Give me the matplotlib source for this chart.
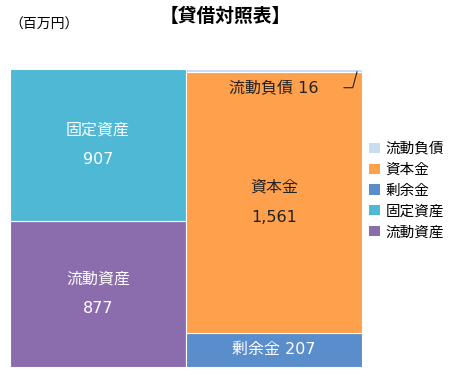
import matplotlib
matplotlib.use("Agg")
import matplotlib.pyplot as plt
from matplotlib.patches import Patch

# DejaVu has Verdana-like digits, CJK falls back to Noto
plt.rcParams['font.family'] = ['DejaVu Sans', 'Noto Sans CJK JP']

# balance sheet values (millions of yen)
assets_labels = ['流動資産', '固定資産']
assets_values = [877, 907]
liab_labels = ['剰余金', '資本金', '流動負債']
liab_values = [207, 1561, 16]

colors = {
    '流動資産': '#8B6DAD',
    '固定資産': '#4FB8D4',
    '剰余金': '#5A8DCB',
    '資本金': '#FFA04C',
    '流動負債': '#C9DCF2',
}
text_colors = {
    '流動資産': 'white',
    '固定資産': 'white',
    '剰余金': 'white',
    '資本金': '#222222',
}
fs = 11.5

fig = plt.figure(figsize=(4.51, 3.75), dpi=100)
ax = fig.add_axes([0.022, 0.021, 0.781, 0.795])

# left bar: assets
bottom = 0
for lab, val in zip(assets_labels, assets_values):
    ax.bar(0, val, width=1, bottom=bottom, color=colors[lab], edgecolor='white', linewidth=0.8)
    ax.text(0, bottom + val / 2 + val * 0.1, lab, ha='center', va='center', color=text_colors[lab], fontsize=fs)
    ax.text(0, bottom + val / 2 - val * 0.1, f'{val:,}', ha='center', va='center', color=text_colors[lab], fontsize=fs)
    bottom += val

# right bar: liabilities + equity
bottom = 0
for lab, val in zip(liab_labels, liab_values):
    ax.bar(1, val, width=1, bottom=bottom, color=colors[lab], edgecolor='white', linewidth=0.8)
    if lab == '剰余金':
        ax.text(1, bottom + val / 2, f'{lab} {val:,}', ha='center', va='center', color='white', fontsize=fs)
    elif lab == '資本金':
        ax.text(1, bottom + val / 2 + 90, lab, ha='center', va='center', color=text_colors[lab], fontsize=fs)
        ax.text(1, bottom + val / 2 - 90, f'{val:,}', ha='center', va='center', color=text_colors[lab], fontsize=fs)
    else:
        top = bottom + val
        ax.text(1.0, top - 115, f'{lab} {val}', ha='center', va='center', color='#222222', fontsize=fs)
        ax.annotate('', xy=(1.475, top), xytext=(1.38, top - 112),
                    arrowprops=dict(arrowstyle='-', color='#222222', lw=0.8,
                                    connectionstyle='angle,angleA=0,angleB=75,rad=0'))
    bottom += val

ax.set_xlim(-0.5, 1.5)
ax.set_ylim(0, sum(assets_values))
ax.axis('off')

fig.text(0.5, 0.957, '【貸借対照表】', ha='center', va='center', fontsize=13.5, fontweight='bold')
fig.text(0.02, 0.933, '（百万円）', ha='left', va='center', fontsize=10)

legend_order = ['流動負債', '資本金', '剰余金', '固定資産', '流動資産']
handles = [Patch(facecolor=colors[k], edgecolor='none') for k in legend_order]
fig.legend(handles, legend_order, loc='center left', bbox_to_anchor=(0.79, 0.493),
           frameon=False, fontsize=10.5, handlelength=0.7, handleheight=0.7,
           handletextpad=0.4, labelspacing=0.4)

fig.savefig('out.png', dpi=100)
